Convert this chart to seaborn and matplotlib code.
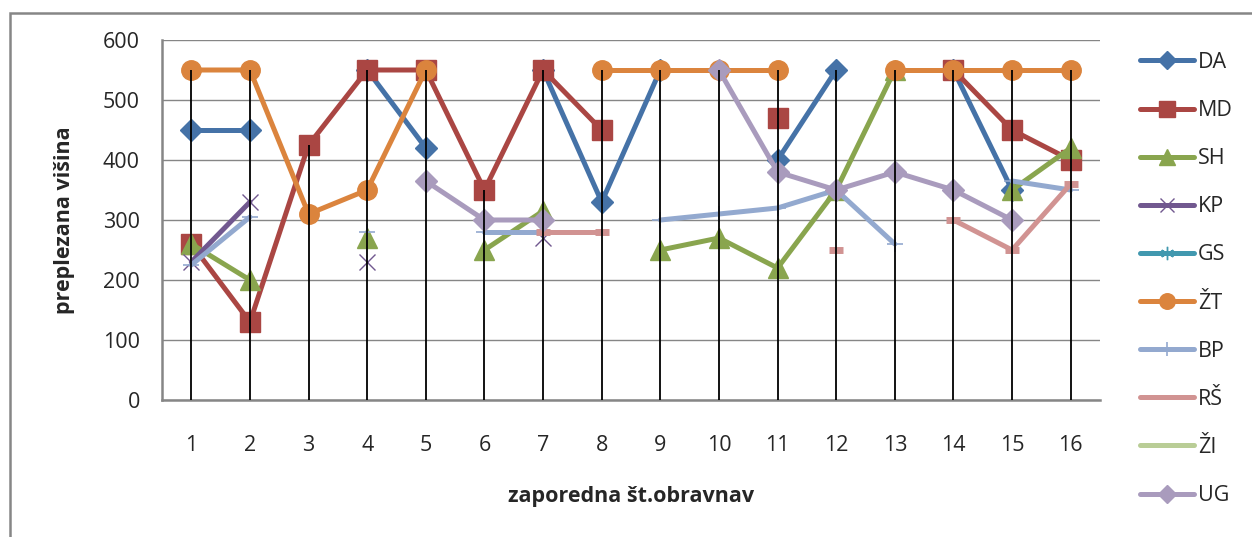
import numpy as np
import pandas as pd
import seaborn as sns
import matplotlib.pyplot as plt
from matplotlib.lines import Line2D
from matplotlib.patches import Rectangle

nan = np.nan
obravnave = list(range(1, 17))

DA = [450, 450, nan, 550, 420, nan, 550, 330, 550, nan, 400, 550, nan, 550, 350, nan]
MD = [260, 130, 425, 550, 550, 350, 550, 450, nan, nan, 470, nan, nan, 550, 450, 400]
SH = [260, 200, nan, 270, nan, 250, 315, nan, 250, 270, 220, 350, 550, nan, 350, 420]
KP = [230, 330, nan, 230, nan, nan, 270, nan, nan, nan, nan, nan, nan, nan, nan, nan]
GS = [nan] * 16
ZT = [550, 550, 310, 350, 550, nan, nan, 550, 550, 550, 550, nan, 550, 550, 550, 550]
BP = [225, 305, nan, 280, nan, 280, 280, nan, 300, 310, 320, 350, 260, nan, 365, 350]
RS = [nan, nan, nan, nan, nan, nan, 280, 280, nan, nan, nan, 250, nan, 300, 250, 360]
ZI = [nan] * 16
UG = [nan, nan, nan, nan, 365, 300, 300, nan, nan, 550, 380, 350, 380, 350, 300, nan]

names = ['DA', 'MD', 'SH', 'KP', 'GS', 'ŽT', 'BP', 'RŠ', 'ŽI', 'UG']
values = [DA, MD, SH, KP, GS, ZT, BP, RS, ZI, UG]

# excel 2007 colours + markers
colors = ['#4572A7', '#AA4643', '#89A54E', '#71588F', '#4198AF',
          '#DB843D', '#93A9CF', '#D19392', '#B9CD96', '#A99BBD']
markers = ['D', 's', '^', 'x', (6, 2, 0), 'o', '+', '_', None, 'D']
msizes = [11, 14, 14, 12, 12, 14, 12, 10, 0, 11]
mew = [1, 1, 1, 1, 1, 1, 1.2, 5, 1, 1]

sns.set_style('white')
plt.rcParams['font.family'] = ['Open Sans', 'DejaVu Sans']

fig = plt.figure(figsize=(12.52, 5.37), dpi=100)
ax = fig.add_axes([162 / 1252, 1 - 400 / 537, 938 / 1252, 360 / 537])

rows = []
for name, vals in zip(names, values):
    for x, v in zip(obravnave, vals):
        rows.append((name, x, v))
df = pd.DataFrame(rows, columns=['oseba', 'obravnava', 'visina'])

handles = []
for i, name in enumerate(names):
    sub = df[df.oseba == name].dropna().copy()
    c = colors[i]
    if len(sub):
        sub['seg'] = (sub.obravnava.diff() != 1).cumsum()
        sns.lineplot(data=sub, x='obravnava', y='visina', units='seg', estimator=None,
                     color=c, lw=3.6, marker=markers[i], ms=msizes[i],
                     mec=c, mfc=c, mew=mew[i], legend=False, sort=False,
                     ax=ax, zorder=3 + i)
    lm = markers[i] if name not in ('RŠ', 'ŽI') else None
    handles.append(Line2D([], [], color=c, lw=3.6, marker=lm, ms=msizes[i] * 0.8,
                          mec=c, mfc=c, mew=mew[i]))

# drop lines from highest point down to the axis
tops = np.nanmax(np.array(values, dtype=float), axis=0)
ax.vlines(obravnave, 0, tops, color='black', lw=1.3, zorder=20)

ax.set_xlim(0.5, 16.5)
ax.set_ylim(0, 600)
ax.set_yticks(range(0, 601, 100))
ax.set_xticks(obravnave)
ax.grid(axis='y', color='#868686', lw=1)
ax.set_axisbelow(True)
sns.despine(ax=ax, top=True, right=True)
for s in ('left', 'bottom'):
    ax.spines[s].set_color('#868686')
    ax.spines[s].set_linewidth(1.8)
ax.tick_params(axis='y', length=7, width=1.2, color='#868686', pad=9, labelsize=15.5)
ax.tick_params(axis='x', length=0, pad=25, labelsize=15.5)
ax.set_xlabel('zaporedna št.obravnav', fontsize=15.5, fontweight='bold', labelpad=22)
ax.set_ylabel('preplezana višina', fontsize=15.5, fontweight='bold', labelpad=20)

fig.legend(handles, names, loc='upper left', bbox_to_anchor=(1140 / 1252, 1 - 52 / 537),
           frameon=False, fontsize=15.5, handlelength=2.5, handletextpad=0.2,
           labelspacing=1.26, borderpad=0, borderaxespad=0)

fig.add_artist(Rectangle((10 / 1252, -0.1), 1.2, 1 - 13 / 537 + 0.1,
                         transform=fig.transFigure, fill=False,
                         edgecolor='#868686', lw=1.8))

fig.savefig('out.png', dpi=100)
